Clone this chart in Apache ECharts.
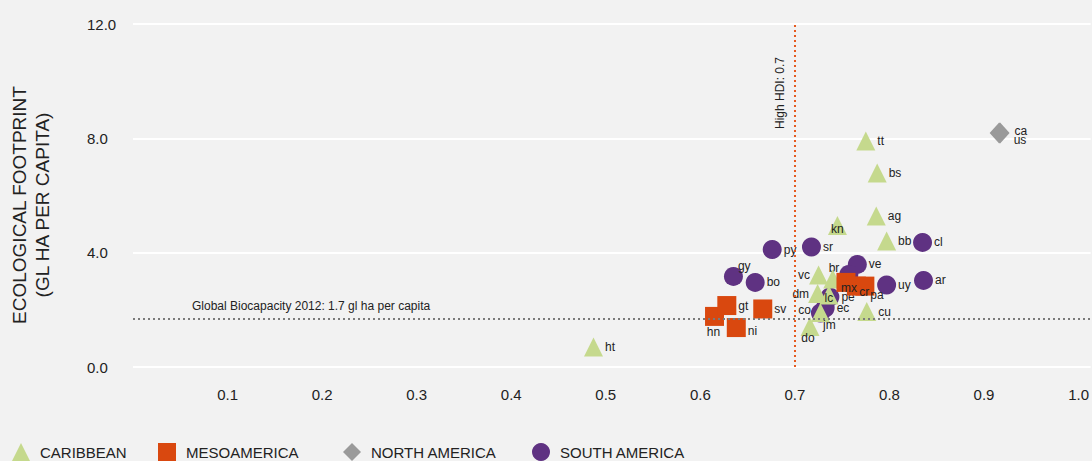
<!DOCTYPE html>
<html>
<head>
<meta charset="utf-8">
<title>Ecological footprint vs HDI</title>
<script src="https://cdn.jsdelivr.net/npm/echarts@6/dist/echarts.min.js"></script>
<style>
  html, body { margin: 0; padding: 0; background: #f2f2f2; }
  #main { width: 1092px; height: 461px; }
</style>
</head>
<body>
<div id="main"></div>
<script>
// region names (legend order)
var regionNames = ['CARIBBEAN', 'MESOAMERICA', 'NORTH AMERICA', 'SOUTH AMERICA'];

// caribbean
var caribbeanCodes = ['ht', 'tt', 'bs', 'ag', 'kn', 'bb', 'vc', 'dm', 'lc', 'gd', 'jm', 'do', 'cu'];
var caribbeanHdi = [0.487, 0.775, 0.787, 0.786, 0.745, 0.797, 0.725, 0.724, 0.736, 0.740, 0.727, 0.716, 0.776];
var caribbeanEf = [0.70, 7.91, 6.79, 5.28, 4.95, 4.41, 3.22, 2.57, 2.52, 3.08, 1.91, 1.42, 1.94];

// mesoamerica
var mesoCodes = ['hn', 'gt', 'ni', 'sv', 'mx', 'cr', 'pa'];
var mesoHdi = [0.615, 0.628, 0.638, 0.666, 0.754, 0.765, 0.774];
var mesoEf = [1.77, 2.15, 1.38, 2.03, 2.96, 2.83, 2.83];

// north america
var northCodes = ['ca', 'us'];
var northHdi = [0.917, 0.916];
var northEf = [8.19, 8.19];

// south america
var southCodes = ['py', 'gy', 'bo', 'sr', 've', 'br', 'pe', 'ec', 'co', 'uy', 'cl', 'ar'];
var southHdi = [0.676, 0.635, 0.658, 0.7175, 0.766, 0.757, 0.737, 0.732, 0.727, 0.797, 0.835, 0.836];
var southEf = [4.11, 3.17, 2.96, 4.20, 3.59, 3.24, 2.45, 2.06, 1.89, 2.87, 4.36, 3.03];

// reference lines
var highHdi = 0.7;
var biocapacity = 1.7;
var hdiLabel = 'High HDI: 0.7';
var biocapLabel = 'Global Biocapacity 2012: 1.7 gl ha per capita';

// axes
var yTicks = [0, 4, 8, 12];
var xTickStep = 0.1;

var FONT = '"Liberation Sans", Arial, Helvetica, sans-serif';
var TXT = '#222';

// where each code label sits: [position, dx, dy]
var labelPlace = {
  kn: ['inside', 0, 3],
  lc: ['inside', 0, 3],
  jm: ['bottom', 9, -5],
  'do': ['bottom', -2, -6],
  vc: ['left', 3, 0],
  dm: ['left', 3, 0],
  co: ['left', 2, -3],
  br: ['left', 2, -6],
  mx: ['inside', 3, 6],
  cr: ['inside', 8, 6],
  pa: ['inside', 12, 9],
  gy: ['right', -7, -10],
  hn: ['bottom', -1, -2],
  ni: ['right', 0, 3],
  ca: ['right', 3, -2],
  us: ['right', 3, 7]
};
var hiddenLabels = ['gd'];

function points(codes, xs, ys) {
  return codes.map(function (c, i) {
    var p = labelPlace[c] || ['right', 0, 0];
    return {
      name: c,
      value: [xs[i], ys[i]],
      label: {
        show: hiddenLabels.indexOf(c) < 0,
        position: p[0],
        offset: [p[1], p[2]]
      }
    };
  });
}

var codeLabel = {
  show: true,
  formatter: '{b}',
  fontSize: 12,
  fontFamily: FONT,
  color: TXT,
  distance: 2
};

var myChart = echarts.init(document.getElementById('main'), null, { renderer: 'svg' });

var option = {
  backgroundColor: '#f2f2f2',
  animation: false,
  textStyle: { fontFamily: FONT },
  grid: { left: 133, right: 0, top: 24, bottom: 94 },
  legend: regionNames.map(function (n, i) {
    return {
      data: [n],
      left: [12, 158, 343, 532][i],
      top: 443,
      padding: 0,
      itemWidth: 18,
      itemHeight: 18,
      itemGap: 0,
      textStyle: { fontSize: 15, color: TXT, fontFamily: FONT, padding: [0, 0, 0, 5] }
    };
  }),
  graphic: [{
    type: 'text',
    x: 31,
    y: 205,
    rotation: Math.PI / 2,
    style: {
      text: 'ECOLOGICAL FOOTPRINT\n(GL HA PER CAPITA)',
      fontSize: 19,
      fontFamily: FONT,
      fill: TXT,
      lineHeight: 23,
      textAlign: 'center',
      textVerticalAlign: 'middle'
    }
  }],
  xAxis: {
    type: 'value',
    min: 0,
    max: 1.0127,
    interval: xTickStep,
    axisLine: { show: false },
    axisTick: { show: false },
    splitLine: { show: false },
    axisLabel: {
      showMinLabel: false,
      showMaxLabel: false,
      margin: 20,
      fontSize: 15,
      color: TXT,
      formatter: function (v) { return v.toFixed(1); }
    }
  },
  yAxis: {
    type: 'value',
    min: yTicks[0],
    max: yTicks[yTicks.length - 1],
    interval: yTicks[1] - yTicks[0],
    axisLine: { show: false },
    axisTick: { show: false },
    splitLine: { lineStyle: { color: '#ffffff', width: 2 } },
    axisLabel: {
      align: 'left',
      margin: 46,
      fontSize: 15,
      color: TXT,
      padding: [0, 0, 10, 0],
      formatter: function (v) { return v.toFixed(1); }
    }
  },
  series: [
    {
      name: regionNames[0],
      type: 'scatter',
      z: 3,
      symbol: 'triangle',
      symbolSize: 19,
      itemStyle: { color: '#c5d98d', opacity: 1 },
      label: codeLabel,
      data: points(caribbeanCodes, caribbeanHdi, caribbeanEf)
    },
    {
      name: regionNames[1],
      type: 'scatter',
      z: 4,
      symbol: 'rect',
      symbolSize: 19,
      itemStyle: { color: '#d9480f', opacity: 1 },
      label: codeLabel,
      data: points(mesoCodes, mesoHdi, mesoEf)
    },
    {
      name: regionNames[2],
      type: 'scatter',
      z: 3,
      symbol: 'diamond',
      symbolSize: [19, 21],
      itemStyle: { color: '#9a9a9a', opacity: 1 },
      label: codeLabel,
      data: points(northCodes, northHdi, northEf)
    },
    {
      name: regionNames[3],
      type: 'scatter',
      z: 2,
      symbol: 'circle',
      symbolSize: 19,
      itemStyle: { color: '#5f3282', opacity: 1 },
      label: codeLabel,
      data: points(southCodes, southHdi, southEf),
      markLine: {
        silent: true,
        symbol: 'none',
        animation: false,
        data: [
          {
            yAxis: biocapacity,
            lineStyle: { color: '#7a7a7a', type: [2, 3], width: 2 },
            label: {
              show: true,
              position: 'insideStartTop',
              distance: [59, 6],
              formatter: biocapLabel,
              fontSize: 12,
              color: TXT
            }
          },
          [
            {
              coord: [highHdi, yTicks[0]],
              lineStyle: { color: '#e55a1f', type: [2, 3], width: 2 },
              label: {
                show: true,
                position: 'insideEndTop',
                distance: [33, 9],
                formatter: hdiLabel,
                fontSize: 12,
                color: TXT
              }
            },
            { coord: [highHdi, yTicks[yTicks.length - 1]] }
          ]
        ]
      }
    }
  ]
};

myChart.setOption(option);
</script>
</body>
</html>
